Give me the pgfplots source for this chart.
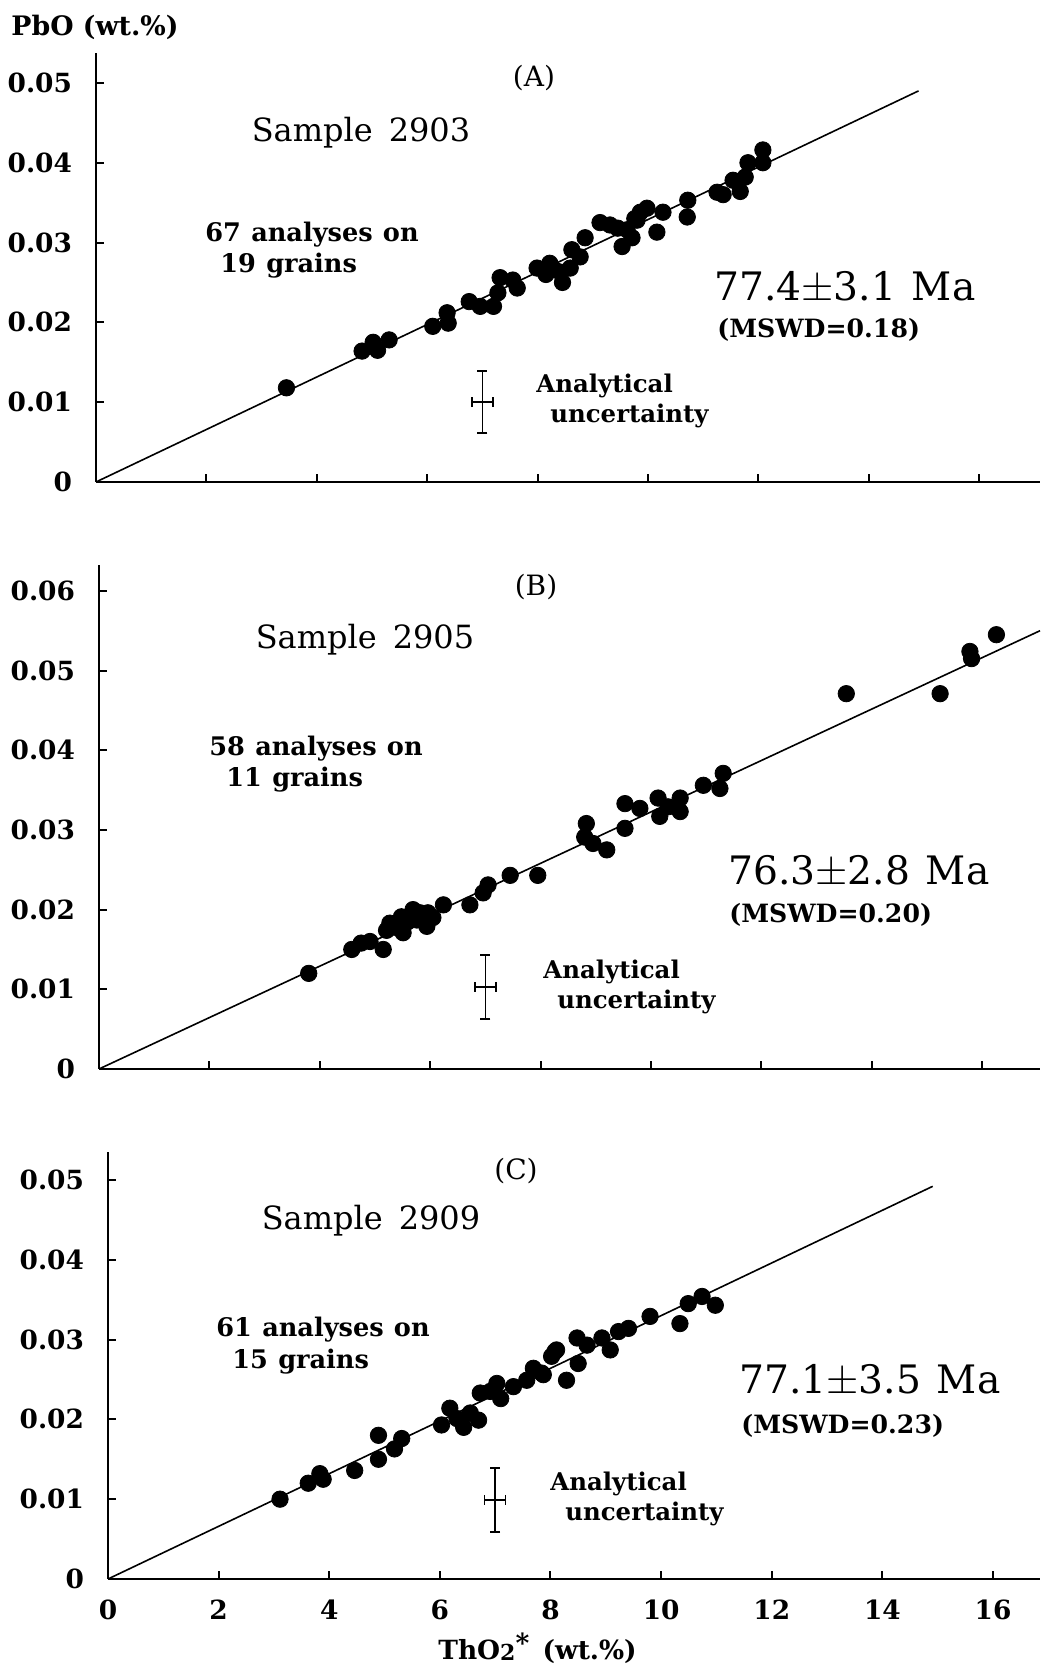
\documentclass[border=0pt]{standalone}
\usepackage{pgfplots}
\usepackage{pgfplotstable}
\usepackage{fontspec}
\setmainfont{DejaVu Serif}
\pgfplotsset{compat=1.18}

% sample 2903
\pgfplotstableread{
x y
3.45 0.0118
4.82 0.0164
5.02 0.0175
5.10 0.0165
5.31 0.0178
6.10 0.0195
6.36 0.0212
6.38 0.0199
6.76 0.0226
6.96 0.0220
7.20 0.0220
7.28 0.0237
7.32 0.0256
7.55 0.0253
7.63 0.0243
7.99 0.0268
8.15 0.0260
8.22 0.0274
8.30 0.0266
8.41 0.0263
8.45 0.0250
8.59 0.0268
8.62 0.0291
8.77 0.0282
8.86 0.0306
9.13 0.0325
9.31 0.0322
9.45 0.0318
9.53 0.0295
9.62 0.0316
9.71 0.0306
9.76 0.0330
9.80 0.0328
9.86 0.0338
9.98 0.0343
10.16 0.0313
10.27 0.0338
10.71 0.0332
10.72 0.0353
11.25 0.0363
11.36 0.0360
11.54 0.0378
11.67 0.0364
11.76 0.0382
11.81 0.0400
12.08 0.0400
12.08 0.0416
}\dataA

% sample 2905
\pgfplotstableread{
x y
3.80 0.0120
4.58 0.0150
4.75 0.0158
4.91 0.0160
5.15 0.0150
5.21 0.0174
5.27 0.0183
5.35 0.0178
5.48 0.0191
5.51 0.0171
5.60 0.0185
5.69 0.0200
5.76 0.0187
5.82 0.0196
5.94 0.0179
5.96 0.0196
6.05 0.0190
6.24 0.0206
6.72 0.0206
6.96 0.0221
7.05 0.0231
7.45 0.0243
7.95 0.0243
8.80 0.0291
8.83 0.0308
8.95 0.0283
9.20 0.0275
9.53 0.0302
9.53 0.0333
9.80 0.0327
10.13 0.0340
10.16 0.0317
10.31 0.0329
10.53 0.0323
10.53 0.0340
10.95 0.0356
11.25 0.0352
11.31 0.0371
13.54 0.0471
15.24 0.0471
15.78 0.0524
15.81 0.0515
16.26 0.0545
}\dataB

% sample 2909
\pgfplotstableread{
x y
3.11 0.0100
3.62 0.0120
3.83 0.0132
3.89 0.0125
4.46 0.0136
4.89 0.0180
4.89 0.0150
5.18 0.0163
5.31 0.0176
6.03 0.0193
6.18 0.0214
6.31 0.0201
6.43 0.0190
6.55 0.0208
6.70 0.0199
6.73 0.0233
6.91 0.0235
7.03 0.0245
7.10 0.0226
7.33 0.0241
7.57 0.0249
7.69 0.0264
7.84 0.0258
7.87 0.0256
8.02 0.0279
8.08 0.0285
8.11 0.0287
8.29 0.0249
8.48 0.0302
8.50 0.0270
8.66 0.0293
8.93 0.0302
9.08 0.0287
9.23 0.0310
9.41 0.0314
9.80 0.0329
10.34 0.0320
10.49 0.0345
10.74 0.0354
10.98 0.0343
}\dataC

\pgfplotsset{
  panel/.style={
    scale only axis, xmin=0, ymin=0, clip=false,
    axis x line*=bottom, axis y line*=left,
    axis line style={line width=1.35pt},
    tick align=inside, major tick length=4pt,
    tick style={line width=1pt, black},
    scaled y ticks=false, scaled x ticks=false,
    yticklabel style={font=\fontsize{13.2}{15}\selectfont\bfseries},
    xticklabel style={font=\fontsize{13.2}{15}\selectfont\bfseries},
    yticklabel shift=8.5pt,
    xtick={2,4,6,8,10,12,14,16}, xticklabels={},
    ytick={0,0.01,0.02,0.03,0.04,0.05},
    yticklabels={0,0.01,0.02,0.03,0.04,0.05},
  },
  pts/.style={only marks, mark=*, mark size=4.1pt, black},
  fit/.style={black, line width=0.8pt, mark=none},
  unc/.style={black, mark=none,
    error bars/.cd, x dir=both, x explicit, y dir=both, y explicit,
    error bar style={line width=0.8pt},
    error mark options={rotate=90, mark size=2.5pt, line width=0.8pt}},
}

\begin{document}
\begin{tikzpicture}
\useasboundingbox (0,0) rectangle (520pt,835.5pt);

% (A)
\begin{axis}[panel, at={(48pt,594.5pt)}, anchor=south west,
  width=472pt, height=214.7pt, xmax=17.10, ymax=0.0538]
\addplot[fit] coordinates {(0,0) (14.90,0.0490)};
\addplot[pts] table {\dataA};
\addplot[unc] coordinates {(7.0,0.0100) +- (0.19,0.0039)};
\end{axis}

% (B)
\begin{axis}[panel, at={(49.5pt,301pt)}, anchor=south west,
  width=470.5pt, height=251.8pt, xmax=17.05, ymax=0.0632,
  ytick={0,0.01,0.02,0.03,0.04,0.05,0.06},
  yticklabels={0,0.01,0.02,0.03,0.04,0.05,0.06}]
\addplot[fit] coordinates {(0,0) (17.05,0.0550)};
\addplot[pts] table {\dataB};
\addplot[unc] coordinates {(7.0,0.0103) +- (0.19,0.0040)};
\end{axis}

% (C)
\begin{axis}[panel, at={(54pt,46pt)}, anchor=south west,
  width=466pt, height=213.5pt, xmax=16.85, ymax=0.0535,
  xtick={0,2,4,6,8,10,12,14,16},
  xticklabels={0,2,4,6,8,10,12,14,16}, xticklabel shift=7pt]
\addplot[fit] coordinates {(0,0) (14.91,0.0492)};
\addplot[pts] table {\dataC};
\addplot[unc] coordinates {(7.0,0.0099) +- (0.19,0.0040)};
\end{axis}

\begin{scope}[x=0.5pt, y=-0.5pt, yshift=835.5pt]
\tikzset{every node/.style={inner sep=0pt}}
\def\lab{\fontsize{12.8}{15}\selectfont\bfseries}
\def\big{\fontsize{19.6}{22}\selectfont}
\def\samp{\fontsize{16}{19}\selectfont}
\def\pan{\fontsize{14}{16}\selectfont}
\def\unc{\fontsize{12.2}{14}\selectfont\bfseries}
\def\msw{\fontsize{12.6}{14}\selectfont\bfseries}

\node[anchor=west] at (11,27) {\fontsize{13.4}{15}\selectfont\bfseries PbO (wt.\%)};

\node at (534,78) {\pan (A)};
\node at (361,133) {\samp Sample\hspace{0.5em}2903};
\node[anchor=west] at (205,235) {\lab 67\hspace{0.4em}analyses\hspace{0.4em}on};
\node[anchor=west] at (220,266) {\lab 19\hspace{0.4em}grains};
\node[anchor=west] at (714,288) {\big 77.4$\pm$3.1\hspace{0.4em}Ma};
\node[anchor=west] at (717,330) {\msw (MSWD=0.18)};
\node[anchor=west] at (536,386) {\unc Analytical};
\node[anchor=west] at (550,416) {\unc uncertainty};

\node at (536,587) {\pan (B)};
\node at (365,640) {\samp Sample\hspace{0.5em}2905};
\node[anchor=west] at (209,749) {\lab 58\hspace{0.4em}analyses\hspace{0.4em}on};
\node[anchor=west] at (226,780) {\lab 11\hspace{0.4em}grains};
\node[anchor=west] at (728,872) {\big 76.3$\pm$2.8\hspace{0.4em}Ma};
\node[anchor=west] at (729,915) {\msw (MSWD=0.20)};
\node[anchor=west] at (543,972) {\unc Analytical};
\node[anchor=west] at (557,1002) {\unc uncertainty};

\node at (516,1171) {\pan (C)};
\node at (371,1221) {\samp Sample\hspace{0.5em}2909};
\node[anchor=west] at (216,1330) {\lab 61\hspace{0.4em}analyses\hspace{0.4em}on};
\node[anchor=west] at (232,1362) {\lab 15\hspace{0.4em}grains};
\node[anchor=west] at (739,1381) {\big 77.1$\pm$3.5\hspace{0.4em}Ma};
\node[anchor=west] at (741,1426) {\msw (MSWD=0.23)};
\node[anchor=west] at (550,1484) {\unc Analytical};
\node[anchor=west] at (565,1514) {\unc uncertainty};

\node[anchor=west] at (438,1648) {\fontsize{13.2}{15}\selectfont\bfseries ThO\raisebox{-0.12ex}{\fontsize{11}{12}\selectfont 2}\raisebox{0.5ex}{*}\hspace{0.5em}(wt.\%)};
\end{scope}
\end{tikzpicture}
\end{document}
